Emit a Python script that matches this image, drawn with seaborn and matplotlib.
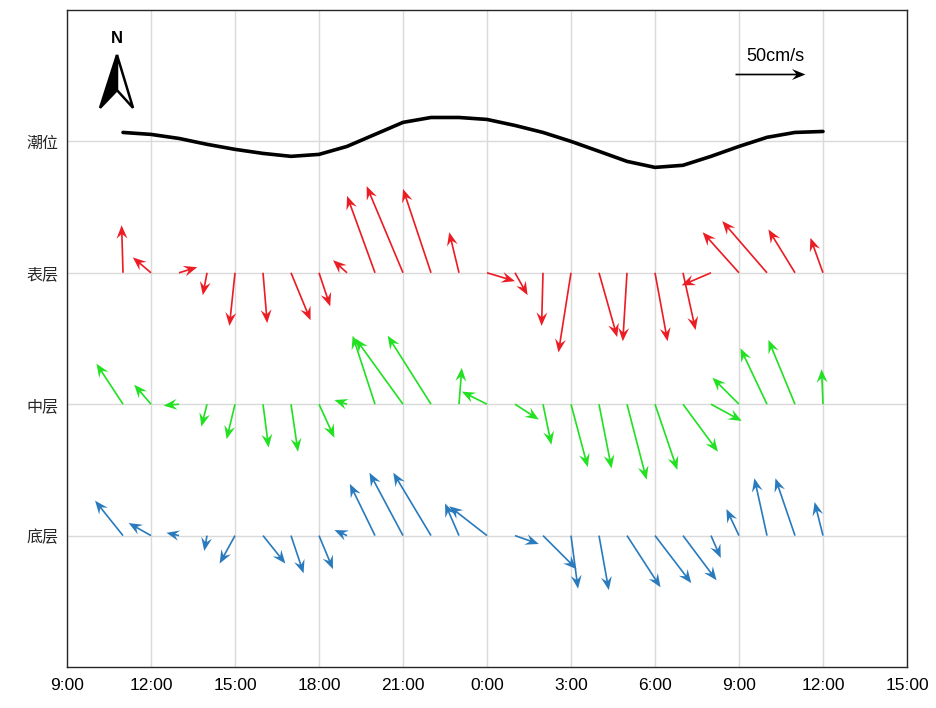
import numpy as np
import pandas as pd
import matplotlib
matplotlib.use("Agg")
import matplotlib.pyplot as plt
import seaborn as sns
from matplotlib.patches import Polygon

# ---------------- data ----------------
# hours after 9:00 of day 1 (11:00 ... 12:00 next day)
hours = [2, 3, 4, 5, 6, 7, 8, 9, 10, 11, 12, 13, 14, 15, 16, 17, 18, 19, 20,
         21, 22, 23, 24, 25, 26, 27]

tick_hours = [0, 3, 6, 9, 12, 15, 18, 21, 24, 27, 30]
tick_labels = ["9:00", "12:00", "15:00", "18:00", "21:00", "0:00", "3:00",
               "6:00", "9:00", "12:00", "15:00"]

layer_names = ["潮位", "表层", "中层", "底层"]

# tide level (relative, plotted around the 潮位 line)
tide = [6.4, 5.0, 2.1, -2.1, -5.7, -8.6, -10.7, -9.3, -3.6, 5.0, 13.6, 17.1,
        17.1, 15.7, 11.4, 6.4, 0.0, -7.1, -14.3, -18.6, -17.1, -10.7, -3.6,
        2.9, 6.4, 7.1]

# current velocity components (cm/s): east (u), north (v)
surf_u = [-1, -13, 13, -3, -4, 3, 14, 8, -10, -20, -26, -20, -7, 20, 9, -1,
          -9, 13, -3, 9, 9, -21, -26, -32, -19, -9]
surf_v = [34, 11, 4, -16, -38, -36, -34, -24, 9, 55, 62, 60, 29, -6, -16,
          -38, -57, -46, -49, -49, -41, -9, 29, 37, 31, 25]

mid_u = [-19, -12, -11, -4, -6, 4, 5, 11, -9, -16, -34, -31, 2, -18, 17, 6,
         12, 9, 14, 16, 25, 22, -19, -19, -19, -1]
mid_v = [29, 14, -1, -16, -25, -31, -34, -24, 3, 49, 47, 49, 26, 9, -11,
         -29, -45, -46, -54, -47, -34, -12, 19, 40, 46, 25]

bot_u = [-20, -16, -9, -2, -11, 16, 9, 10, -9, -18, -24, -27, -10, -27, 17,
         24, 5, 7, 24, 26, 24, 7, -9, -9, -14, -6]
bot_v = [25, 9, 2, -11, -20, -20, -27, -24, 4, 37, 45, 45, 23, 21, -6, -24,
         -38, -39, -37, -34, -32, -16, 19, 41, 41, 24]

scale_speed = 50  # cm/s reference arrow

# ---------------- layout ----------------
levels = {"潮位": 376, "表层": 282, "中层": 188, "底层": 94}
colors = {"表层": "#ec1c24", "中层": "#22e022", "底层": "#2a7bbd"}

sns.set_theme(style="white")
plt.rcParams["font.family"] = ["Liberation Sans", "Noto Sans CJK SC", "DejaVu Sans"]

fig = plt.figure(figsize=(9.36, 7.08), dpi=100)
ax = fig.add_axes([0.0716, 0.0579, 0.8974, 0.928])

# tide curve
df_tide = pd.DataFrame({"hour": hours, "level": np.array(tide) + levels["潮位"]})
sns.lineplot(data=df_tide, x="hour", y="level", color="black", lw=2.6, ax=ax)

qkw = dict(angles="uv", scale_units="y", scale=1, width=0.0020,
           headwidth=6.5, headlength=8, headaxislength=5.5, zorder=3)
for name, u, v in [("表层", surf_u, surf_v), ("中层", mid_u, mid_v),
                   ("底层", bot_u, bot_v)]:
    ax.quiver(hours, np.full(len(hours), levels[name]), u, v,
              color=colors[name], **qkw)

# scale arrow
ax.quiver([23.86], [424], [scale_speed], [0], color="black", **qkw)
ax.text(25.3, 437, f"{scale_speed}cm/s", ha="center", va="center",
        fontsize=13, color="black")

# north arrow (axes fraction)
left = Polygon([(0.0595, 0.9315), (0.0393, 0.851), (0.0595, 0.878)],
               closed=True, transform=ax.transAxes, facecolor="black",
               edgecolor="black", lw=1.8, zorder=4)
right = Polygon([(0.0595, 0.9315), (0.0786, 0.851), (0.0595, 0.878)],
                closed=True, transform=ax.transAxes, facecolor="white",
                edgecolor="black", lw=1.8, zorder=4)
ax.add_patch(left)
ax.add_patch(right)
ax.text(0.0595, 0.956, "N", transform=ax.transAxes, ha="center", va="center",
        fontsize=12, fontweight="bold", color="black")

# axes
ax.set_xlim(0, 30)
ax.set_ylim(0, 470)
ax.set_xticks(tick_hours)
ax.set_xticklabels(tick_labels, fontsize=12.5)
ax.set_yticks([levels[n] for n in layer_names])
ax.set_yticklabels(layer_names, fontsize=11.5, color="#333333",
                   family=["Noto Sans CJK SC", "DejaVu Sans"])
ax.set_xlabel("")
ax.set_ylabel("")
ax.grid(True, color="#dadada", lw=1.0)
ax.set_axisbelow(True)
ax.tick_params(axis="both", direction="in", length=4, width=1.2,
               colors="#262626", pad=6)
ax.tick_params(axis="x", length=0, pad=8, labelcolor="black")
for s in ax.spines.values():
    s.set_color("#262626")
    s.set_linewidth(1.0)

fig.savefig("out.png", dpi=100)
